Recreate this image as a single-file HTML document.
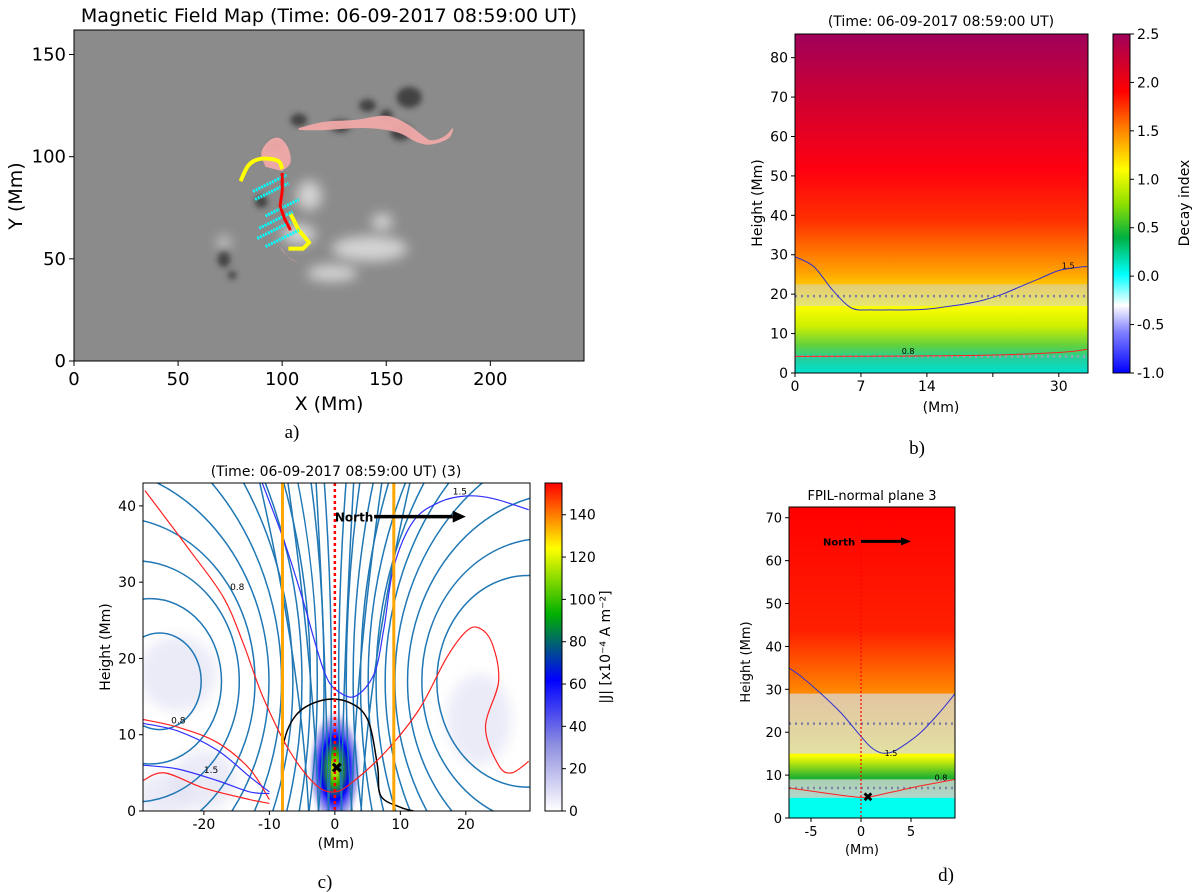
<!DOCTYPE html>
<html><head><meta charset="utf-8"><style>
html,body{margin:0;padding:0;background:#fff;width:1200px;height:892px;overflow:hidden;}
svg{display:block;font-family:"DejaVu Sans","Liberation Sans",sans-serif;}
.lab{font-family:"Liberation Serif",serif;font-size:19px;}
</style></head><body>
<svg id="fig" width="1200" height="892" viewBox="0 0 1200 892" xmlns="http://www.w3.org/2000/svg">
<defs>
 <filter id="blur3" x="-100%" y="-100%" width="300%" height="300%"><feGaussianBlur stdDeviation="3"/></filter>
 <filter id="blur6" x="-100%" y="-100%" width="300%" height="300%"><feGaussianBlur stdDeviation="6"/></filter>
 <linearGradient id="cmapV" x1="0" y1="1" x2="0" y2="0">
  <stop offset="0" stop-color="#0000ff"/><stop offset="0.12" stop-color="#8080ff"/>
  <stop offset="0.2" stop-color="#ffffff"/><stop offset="0.29" stop-color="#00ffff"/>
  <stop offset="0.4" stop-color="#00b040"/><stop offset="0.5" stop-color="#90e000"/>
  <stop offset="0.6" stop-color="#ffff00"/><stop offset="0.72" stop-color="#ff8000"/>
  <stop offset="0.83" stop-color="#ff0000"/><stop offset="1" stop-color="#a0005a"/>
 </linearGradient>
 <linearGradient id="bgB" x1="0" y1="1" x2="0" y2="0">
  <stop offset="0" stop-color="#00e0d0"/><stop offset="0.04" stop-color="#20d0a0"/>
  <stop offset="0.08" stop-color="#60d040"/><stop offset="0.14" stop-color="#d0f000"/>
  <stop offset="0.2" stop-color="#ffff00"/><stop offset="0.3" stop-color="#ffa000"/>
  <stop offset="0.45" stop-color="#ff3000"/><stop offset="0.6" stop-color="#ff0010"/>
  <stop offset="0.8" stop-color="#d00030"/><stop offset="1" stop-color="#a0005a"/>
 </linearGradient>
 <linearGradient id="bgD" x1="0" y1="1" x2="0" y2="0">
  <stop offset="0" stop-color="#00ffee"/><stop offset="0.065" stop-color="#00ffee"/>
  <stop offset="0.066" stop-color="#40d0a0"/><stop offset="0.13" stop-color="#20b030"/>
  <stop offset="0.2" stop-color="#ffff00"/><stop offset="0.3" stop-color="#ffc000"/>
  <stop offset="0.45" stop-color="#ff7000"/><stop offset="0.6" stop-color="#ff2000"/>
  <stop offset="1" stop-color="#ff0000"/>
 </linearGradient>
 <linearGradient id="cmapJ" x1="0" y1="1" x2="0" y2="0">
  <stop offset="0" stop-color="#ffffff"/><stop offset="0.2" stop-color="#9090e0"/>
  <stop offset="0.4" stop-color="#0000ff"/><stop offset="0.6" stop-color="#00b000"/>
  <stop offset="0.8" stop-color="#ffff00"/><stop offset="0.9" stop-color="#ff8000"/>
  <stop offset="1" stop-color="#ff0000"/>
 </linearGradient>
 <radialGradient id="jblob">
  <stop offset="0" stop-color="#ffff00"/><stop offset="0.25" stop-color="#30b000"/>
  <stop offset="0.5" stop-color="#0000ff"/><stop offset="0.8" stop-color="#8080e0" stop-opacity="0.6"/>
  <stop offset="1" stop-color="#ffffff" stop-opacity="0"/>
 </radialGradient>
 <clipPath id="clipA"><rect x="74" y="30" width="510" height="331"/></clipPath>
 <clipPath id="clipC"><rect x="143" y="483" width="387" height="328"/></clipPath>
 <clipPath id="clipB"><rect x="795" y="34" width="293" height="339"/></clipPath>
 <clipPath id="clipD"><rect x="789" y="507" width="166" height="311"/></clipPath>
</defs>
<g id="pa"></g>
<g id="pb"></g>
<g id="pc"></g>
<g id="pd"></g>
</svg>
<script>
// ---------- data ----------
const aXTicks=[0,50,100,150,200];
const aYTicks=[0,50,100,150];
const aYellow1=[[80,88],[84,96],[90,99],[98,98],[100,94]];
const aYellow2=[[104,72],[108,64],[113,58],[110,55],[103,55]];
const aRedPil=[[100,92],[100,83],[99,76],[101,70],[104,64]];
const aCyanCenters=[[94,87],[95,83],[100,75],[97,69],[96,64],[100,60]];
const aDark=[[161,129,6,5],[141,125,4,3],[157,112,5,4],[128,115,5,3],[108,118,4,3],[90,78,3,3],[72,50,3,4],[76,42,2,2],[97,105,3,2],[150,120,3,3]];
const aBright=[[113,81,6,7],[108,62,8,5],[142,55,18,6],[124,43,12,4],[72,58,3,3],[148,68,5,4]];
const bXTicks=[0,7,14,21,28];
const bXTickLabels=["0","7","14","","30"];
const bYTicks=[0,10,20,30,40,50,60,70,80];
const bCbTicks=[-1.0,-0.5,0.0,0.5,1.0,1.5,2.0,2.5];
const bBlueX=[0,2,4,6,8,10,12,14,16,18,20,22,24,26,28,30,31];
const bBlueH=[29.5,27,21,16.5,16,16,16,16.2,16.8,17.5,18.5,20,22,24,26,26.8,27];
const bRedX=[0,10,20,28,31];
const bRedH=[4.2,4.3,4.5,5.2,6];
const cXTicks=[-20,-10,0,10,20];
const cYTicks=[0,10,20,30,40];
const cCbTicks=[0,20,40,60,80,100,120,140];
const cBlack=[[-8,0],[-8,8],[-6,12.5],[-2,14.5],[2,14.3],[5,12],[6.5,6],[7,2],[10,0.5],[12,0]];
const cRedMain=[[-29,42],[-22,34],[-17,28],[-14,22],[-11,15],[-7,8],[-3,3.5],[0,2.5],[3,4],[8,8],[13,13.5],[17,20],[20,23.5],[22,24],[24,22],[25,17],[23,11],[25,6],[27,5],[29.6,6.5]];
const cBlueMain=[[-12,45],[-8,36],[-5,28],[-3,22],[-1.5,18],[0,16],[3,15],[6,18],[7.5,24],[9,32],[12,38],[16,40.5],[20,41.3],[24,41],[29.6,39.5]];
const cRedLeft=[[-29.3,12],[-24,11],[-18,9],[-13,5.5],[-10,1.5]];
const cRedLeft2=[[-29.3,4],[-26,5],[-20,3],[-13,1.5],[-10,1]];
const cBlueLeft=[[-29.3,11.5],[-24,10.5],[-18,8],[-13,4.5],[-10,2.5]];
const cBlueLeft2=[[-29.3,6],[-24,5.5],[-18,4],[-13,2.5],[-10,2.3]];
const cFluxKs=[0.12,0.2,0.28,0.36,0.44,0.52,0.6,0.67,0.74,0.8,0.86,0.92,1.09,1.17,1.26,1.37,1.5,1.65,1.85,2.1,2.5,3.1,4];
const dXTicks=[-5,0,5];
const dYTicks=[0,10,20,30,40,50,60,70];
const dBlueX=[-7.2,-6,-4,-2,0,1,2,3,4,6,8,9.4];
const dBlueH=[35,33,29,24.5,19,16.5,15.2,15.3,16.5,20,25,29];
const dRedX=[-7.2,-5,-2,0,1,3,6,9.4];
const dRedH=[7,6.3,5.3,4.8,5,6,7.5,9];

// ---------- helpers ----------
const NS="http://www.w3.org/2000/svg";
function mk(parent,tag,attrs,text){const e=document.createElementNS(NS,tag);for(const k in attrs)e.setAttribute(k,attrs[k]);if(text!==undefined)e.textContent=text;parent.appendChild(e);return e;}
function lin(d0,d1,p0,p1){return v=>p0+(v-d0)*(p1-p0)/(d1-d0);}
function pathOf(pts,fx,fy){return pts.map((p,i)=>(i?'L':'M')+fx(p[0]).toFixed(1)+','+fy(p[1]).toFixed(1)).join(' ');}
function smoothPath(pts,fx,fy){
 const P=pts.map(p=>[fx(p[0]),fy(p[1])]);let d='M'+P[0][0].toFixed(1)+','+P[0][1].toFixed(1);
 for(let i=0;i<P.length-1;i++){const p0=P[i-1]||P[i],p1=P[i],p2=P[i+1],p3=P[i+2]||p2;
  d+=` C${(p1[0]+(p2[0]-p0[0])/6).toFixed(1)},${(p1[1]+(p2[1]-p0[1])/6).toFixed(1)} ${(p2[0]-(p3[0]-p1[0])/6).toFixed(1)},${(p2[1]-(p3[1]-p1[1])/6).toFixed(1)} ${p2[0].toFixed(1)},${p2[1].toFixed(1)}`;}
 return d;}
function zip(xs,hs){return xs.map((x,i)=>[x,hs[i]]);}

// ---------- panel a ----------
const pa=document.getElementById('pa');
const ax=lin(0,245,74,584), ay=lin(0,162,361,30);
let t=mk(pa,'text',{x:329,y:22,'text-anchor':'middle','font-size':19});t.textContent='Magnetic Field Map (Time: 06-09-2017 08:59:00 UT)';

const ga=mk(pa,'g',{'clip-path':'url(#clipA)'});
let bg=mk(ga,'rect',{x:74,y:30,width:510,height:331,fill:'#8b8b8b'});

aDark.forEach(b=>{const e=mk(ga,'ellipse',{cx:ax(b[0]),cy:ay(b[1]),rx:b[2]*2.1,ry:b[3]*2.1,fill:'#2a2a2a',opacity:0.75,filter:'url(#blur3)'});
 });
aBright.forEach(b=>{const e=mk(ga,'ellipse',{cx:ax(b[0]),cy:ay(b[1]),rx:b[2]*2.1,ry:b[3]*2.1,fill:'#f2f2f2',opacity:0.7,filter:'url(#blur6)'});
 });
let pk=mk(ga,'path',{d:smoothPath([[108,114],[120,117],[135,118],[150,120],[160,116],[168,110],[172,108],[178,110],[182,114],[180,109],[172,106],[165,107],[155,112],[140,114],[120,113],[108,113]],ax,ay),fill:'#f0a8a8',opacity:0.95});

pk=mk(ga,'path',{d:smoothPath([[92,95],[90,102],[94,108],[99,109],[103,104],[104,97],[100,93]],ax,ay),fill:'#f0a8a8',opacity:0.95});

pk=mk(ga,'path',{d:smoothPath([[99,56],[103,51],[108,48],[104,50],[100,54]],ax,ay),fill:'#f0a8a8',opacity:0.9});

let yl=mk(ga,'path',{d:smoothPath(aYellow1,ax,ay),fill:'none',stroke:'#ffff00','stroke-width':4});

yl=mk(ga,'path',{d:pathOf(aYellow2,ax,ay),fill:'none',stroke:'#ffff00','stroke-width':4,'stroke-linejoin':'round'});

aCyanCenters.forEach(c=>{const e=mk(ga,'line',{x1:ax(c[0]-8),y1:ay(c[1]-4),x2:ax(c[0]+8),y2:ay(c[1]+4),stroke:'#00ffff','stroke-width':3,'stroke-dasharray':'2,1'});
 });
yl=mk(ga,'path',{d:pathOf(aRedPil,ax,ay),fill:'none',stroke:'#ff0000','stroke-width':3});

mk(pa,'rect',{x:74,y:30,width:510,height:331,fill:'none',stroke:'#000','stroke-width':1});
aXTicks.forEach(v=>{const x=ax(v);mk(pa,'line',{x1:x,y1:361,x2:x,y2:366,stroke:'#000'});
 const e=mk(pa,'text',{x:x,y:385,'text-anchor':'middle','font-size':18},String(v));});
aYTicks.forEach(v=>{const y=ay(v);mk(pa,'line',{x1:69,y1:y,x2:74,y2:y,stroke:'#000'});
 const e=mk(pa,'text',{x:66,y:y+6,'text-anchor':'end','font-size':18},String(v));});
t=mk(pa,'text',{x:329,y:410,'text-anchor':'middle','font-size':19},'X (Mm)');
t=mk(pa,'text',{x:22,y:196,'text-anchor':'middle','font-size':19,transform:'rotate(-90 22 196)'},'Y (Mm)');
t=mk(pa,'text',{x:292,y:438,'text-anchor':'middle',class:'lab'},'a)');

// ---------- panel b ----------
const pb=document.getElementById('pb');
const bx=lin(0,31.1,795,1088), by=lin(0,86,373,34);
t=mk(pb,'text',{x:941,y:26,'text-anchor':'middle','font-size':14},'(Time: 06-09-2017 08:59:00 UT)');
const gb=mk(pb,'g',{'clip-path':'url(#clipB)'});
let r=mk(gb,'rect',{x:795,y:34,width:293,height:339,fill:'url(#bgB)'});
r=mk(gb,'rect',{x:795,y:by(22.5),width:293,height:by(17)-by(22.5),fill:'#d0d0d0',opacity:0.55});
r=mk(gb,'line',{x1:795,x2:1088,y1:by(19.5),y2:by(19.5),stroke:'#8080a0','stroke-width':2.5,'stroke-dasharray':'2,4'});
r=mk(gb,'line',{x1:795,x2:1088,y1:by(4.2),y2:by(4.2),stroke:'#a0a0c0','stroke-width':2.5,'stroke-dasharray':'2,4'});
r=mk(gb,'path',{d:smoothPath(zip(bBlueX,bBlueH),bx,by),fill:'none',stroke:'#3030d0','stroke-width':1});
r=mk(gb,'path',{d:smoothPath(zip(bRedX,bRedH),bx,by),fill:'none',stroke:'#ff2020','stroke-width':1});
mk(pb,'text',{x:bx(29),y:by(26.5),'font-size':8,'text-anchor':'middle'},'1.5');
mk(pb,'text',{x:bx(12),y:by(4.8),'font-size':8,'text-anchor':'middle'},'0.8');
mk(pb,'rect',{x:795,y:34,width:293,height:339,fill:'none',stroke:'#000'});
bXTicks.forEach((v,i)=>{const x=bx(v);mk(pb,'line',{x1:x,y1:373,x2:x,y2:377,stroke:'#000'});
 const e=mk(pb,'text',{x:x,y:391,'text-anchor':'middle','font-size':14},bXTickLabels[i]);});
bYTicks.forEach(v=>{const y=by(v);mk(pb,'line',{x1:791,y1:y,x2:795,y2:y,stroke:'#000'});
 const e=mk(pb,'text',{x:788,y:y+5,'text-anchor':'end','font-size':14},String(v));});
t=mk(pb,'text',{x:941,y:412,'text-anchor':'middle','font-size':14},'(Mm)');
t=mk(pb,'text',{x:762,y:203,'text-anchor':'middle','font-size':14,transform:'rotate(-90 762 203)'},'Height (Mm)');
r=mk(pb,'rect',{x:1113,y:34,width:17,height:339,fill:'url(#cmapV)',stroke:'#000'});
const bcy=lin(-1,2.5,373,34);
bCbTicks.forEach(v=>{const y=bcy(v);mk(pb,'line',{x1:1130,y1:y,x2:1134,y2:y,stroke:'#000'});
 const e=mk(pb,'text',{x:1137,y:y+5,'font-size':14},v.toFixed(1));});
t=mk(pb,'text',{x:1189,y:203,'text-anchor':'middle','font-size':14,transform:'rotate(-90 1189 203)'},'Decay index');
t=mk(pb,'text',{x:917,y:454,'text-anchor':'middle',class:'lab'},'b)');

// ---------- panel c ----------
const pc=document.getElementById('pc');
const cx=lin(-29.3,29.8,143,530), cy=lin(0,43,811,483);
t=mk(pc,'text',{x:336,y:476,'text-anchor':'middle','font-size':14},'(Time: 06-09-2017 08:59:00 UT) (3)');
const gc=mk(pc,'g',{'clip-path':'url(#clipC)'});
mk(gc,'rect',{x:143,y:483,width:387,height:328,fill:'#fff'});
[[-24,18,6,5],[-20,4,5,4],[-26,2,4,3],[22,12,5,6]].forEach(b=>{mk(gc,'ellipse',{cx:cx(b[0]),cy:cy(b[1]),rx:b[2]*6.5,ry:b[3]*7.6,fill:'#d8d8f0',opacity:0.5,filter:'url(#blur6)'});});
r=mk(gc,'ellipse',{cx:cx(0),cy:cy(5.5),rx:28,ry:62,fill:'url(#jblob)'});
const gS=mk(gc,'g',{fill:'none',stroke:'#1f77b4','stroke-width':1.5});

const dO=26, hO=17;
cFluxKs.forEach(k=>{
 const ccx=-dO*(1+k*k)/(1-k*k), rad=Math.abs(2*dO*k/(1-k*k));
 const e=mk(gS,'ellipse',{cx:cx(ccx),cy:cy(hO),rx:rad*6.56,ry:rad*7.63});
 
});
[[-1,0],[1,0],[-2.5,0],[2.5,0],[-4,0],[4,0]].forEach(p=>{mk(gS,'path',{d:`M${cx(p[0])},${cy(0)} Q${cx(p[0]*1.3)},${cy(20)} ${cx(p[0]*3)},${cy(45)}`});});
r=mk(gc,'path',{d:smoothPath(cBlack,cx,cy),fill:'none',stroke:'#000','stroke-width':1.5});
r=mk(gc,'path',{d:smoothPath(cRedMain,cx,cy),fill:'none',stroke:'#ff2020','stroke-width':1.2});
r=mk(gc,'path',{d:smoothPath(cBlueMain,cx,cy),fill:'none',stroke:'#3030ff','stroke-width':1.2});
[cRedLeft,cRedLeft2].forEach(a=>{mk(gc,'path',{d:smoothPath(a,cx,cy),fill:'none',stroke:'#ff2020','stroke-width':1.2});});
[cBlueLeft,cBlueLeft2].forEach(a=>{mk(gc,'path',{d:smoothPath(a,cx,cy),fill:'none',stroke:'#3030ff','stroke-width':1.2});});
mk(gc,'text',{x:cx(-25),y:cy(11.5),'font-size':9},'0.8');
mk(gc,'text',{x:cx(-20),y:cy(5),'font-size':9},'1.5');
mk(gc,'text',{x:cx(-16),y:cy(29),'font-size':9},'0.8');
mk(gc,'text',{x:cx(18),y:cy(41.5),'font-size':9},'1.5');
[-8,9].forEach(v=>{const e=mk(gc,'line',{x1:cx(v),x2:cx(v),y1:483,y2:811,stroke:'#ffa500','stroke-width':3});});
r=mk(gc,'line',{x1:cx(0),x2:cx(0),y1:483,y2:811,stroke:'#ff0000','stroke-width':2.5,'stroke-dasharray':'3,3'});
mk(gc,'text',{x:cx(0.3),y:cy(5),'font-size':15,'font-weight':'bold','text-anchor':'middle',fill:'#000'},'✖');
t=mk(pc,'text',{x:cx(0),y:cy(38.6)+5,'font-size':12,'font-weight':'bold'},'North');
r=mk(pc,'line',{x1:cx(6),x2:cx(18),y1:cy(38.6),y2:cy(38.6),stroke:'#000','stroke-width':3.5});
mk(pc,'polygon',{points:`${cx(20)},${cy(38.6)} ${cx(18)},${cy(38.6)-6} ${cx(18)},${cy(38.6)+6}`,fill:'#000'});
mk(pc,'rect',{x:143,y:483,width:387,height:328,fill:'none',stroke:'#000'});
cXTicks.forEach(v=>{const x=cx(v);mk(pc,'line',{x1:x,y1:811,x2:x,y2:815,stroke:'#000'});
 const e=mk(pc,'text',{x:x,y:829,'text-anchor':'middle','font-size':14},String(v));});
cYTicks.forEach(v=>{const y=cy(v);mk(pc,'line',{x1:139,y1:y,x2:143,y2:y,stroke:'#000'});
 const e=mk(pc,'text',{x:136,y:y+5,'text-anchor':'end','font-size':14},String(v));});
t=mk(pc,'text',{x:336,y:848,'text-anchor':'middle','font-size':14},'(Mm)');
t=mk(pc,'text',{x:110,y:647,'text-anchor':'middle','font-size':14,transform:'rotate(-90 110 647)'},'Height (Mm)');
r=mk(pc,'rect',{x:545,y:483,width:17,height:328,fill:'url(#cmapJ)',stroke:'#000'});
const ccy=lin(0,155,811,483);
cCbTicks.forEach(v=>{const y=ccy(v);mk(pc,'line',{x1:562,y1:y,x2:566,y2:y,stroke:'#000'});
 const e=mk(pc,'text',{x:569,y:y+5,'font-size':14},String(v));});
t=mk(pc,'text',{x:610,y:647,'text-anchor':'middle','font-size':14,transform:'rotate(-90 610 647)'},'|J| [x10⁻⁴ A m⁻²]');
t=mk(pc,'text',{x:325,y:888,'text-anchor':'middle',class:'lab'},'c)');

// ---------- panel d ----------
const pd=document.getElementById('pd');
const dx=lin(-7.2,9.4,789,955), dy=lin(0,72.5,818,507);
t=mk(pd,'text',{x:872,y:500,'text-anchor':'middle','font-size':13},'FPIL-normal plane 3');
const gd=mk(pd,'g',{'clip-path':'url(#clipD)'});
r=mk(gd,'rect',{x:789,y:507,width:166,height:311,fill:'url(#bgD)'});
r=mk(gd,'rect',{x:789,y:dy(29),width:166,height:dy(15)-dy(29),fill:'#d8d8d8',opacity:0.75});
r=mk(gd,'rect',{x:789,y:dy(9),width:166,height:dy(4.7)-dy(9),fill:'#d8d8d8',opacity:0.75});
[22,7].forEach(v=>{mk(gd,'line',{x1:789,x2:955,y1:dy(v),y2:dy(v),stroke:'#8080a0','stroke-width':2.5,'stroke-dasharray':'2,4'});});
r=mk(gd,'path',{d:smoothPath(zip(dBlueX,dBlueH),dx,dy),fill:'none',stroke:'#3030d0','stroke-width':1});
r=mk(gd,'path',{d:smoothPath(zip(dRedX,dRedH),dx,dy),fill:'none',stroke:'#ff2020','stroke-width':1});
mk(gd,'text',{x:dx(3),y:dy(14.5),'font-size':8,'text-anchor':'middle'},'1.5');
mk(gd,'text',{x:dx(8),y:dy(8.7),'font-size':8,'text-anchor':'middle'},'0.8');
r=mk(gd,'line',{x1:dx(0),x2:dx(0),y1:507,y2:818,stroke:'#ff0000','stroke-width':1.2,'stroke-dasharray':'2,2'});
mk(gd,'text',{x:dx(0.7),y:dy(5)+5,'font-size':13,'font-weight':'bold','text-anchor':'middle'},'✖');
t=mk(pd,'text',{x:dx(-3.8),y:dy(64.5)+4,'font-size':10,'font-weight':'bold'},'North');
r=mk(pd,'line',{x1:dx(0),x2:dx(4),y1:dy(64.5),y2:dy(64.5),stroke:'#000','stroke-width':3});
mk(pd,'polygon',{points:`${dx(5)},${dy(64.5)} ${dx(4)},${dy(64.5)-4} ${dx(4)},${dy(64.5)+4}`,fill:'#000'});
mk(pd,'rect',{x:789,y:507,width:166,height:311,fill:'none',stroke:'#000'});
dXTicks.forEach(v=>{const x=dx(v);mk(pd,'line',{x1:x,y1:818,x2:x,y2:822,stroke:'#000'});
 const e=mk(pd,'text',{x:x,y:836,'text-anchor':'middle','font-size':13},String(v));});
dYTicks.forEach(v=>{const y=dy(v);mk(pd,'line',{x1:785,y1:y,x2:789,y2:y,stroke:'#000'});
 const e=mk(pd,'text',{x:782,y:y+5,'text-anchor':'end','font-size':13},String(v));});
t=mk(pd,'text',{x:862,y:854,'text-anchor':'middle','font-size':13},'(Mm)');
t=mk(pd,'text',{x:750,y:662,'text-anchor':'middle','font-size':13,transform:'rotate(-90 750 662)'},'Height (Mm)');
t=mk(pd,'text',{x:946,y:881,'text-anchor':'middle',class:'lab'},'d)');
</script>
</body></html>
